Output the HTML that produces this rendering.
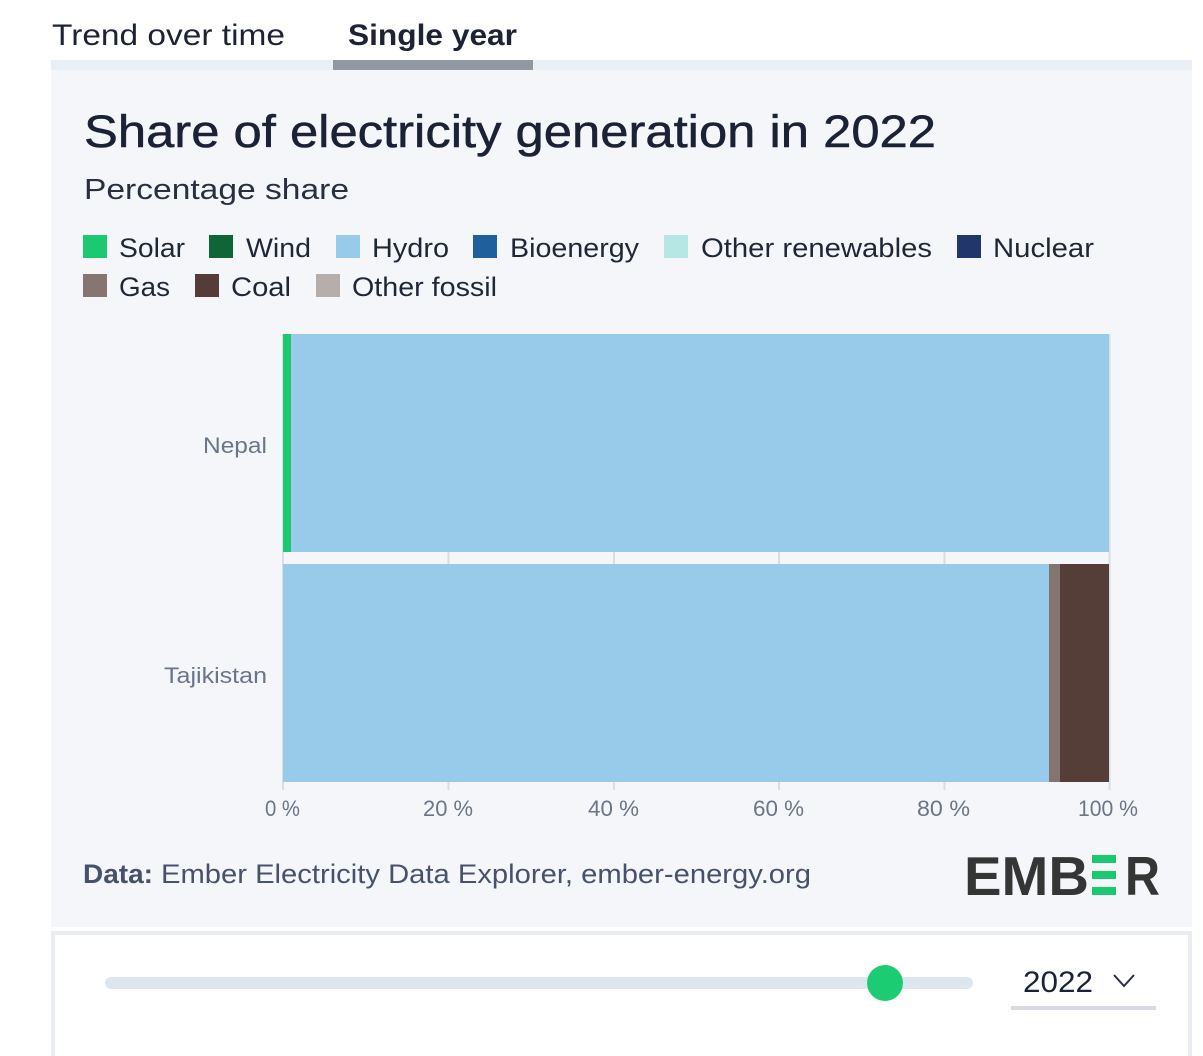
<!DOCTYPE html>
<html>
<head>
<meta charset="utf-8">
<style>
  html, body { margin: 0; padding: 0; background: #ffffff; }
  svg { display: block; }
  text { font-family: "Liberation Sans", "DejaVu Sans", sans-serif; }
</style>
</head>
<body>
<svg width="1203" height="1056" viewBox="0 0 1203 1056" xmlns="http://www.w3.org/2000/svg">
  <rect x="0" y="0" width="1203" height="1056" fill="#ffffff"/>

  <!-- Tabs -->
  <text x="52" y="45" font-size="30" fill="#1d2333" textLength="233" lengthAdjust="spacingAndGlyphs">Trend over time</text>
  <text x="348" y="45" font-size="30" font-weight="bold" fill="#1d2333" textLength="169" lengthAdjust="spacingAndGlyphs">Single year</text>
  <rect x="51" y="60" width="1141" height="10" fill="#eaeef5"/>
  <rect x="333" y="60" width="200" height="10" fill="#9298a2"/>

  <!-- Panel -->
  <rect x="51" y="70" width="1141" height="857" fill="#f4f6fa"/>

  <!-- Title -->
  <text x="84" y="147" font-size="45" fill="#1b2236" stroke="#1b2236" stroke-width="0.5" textLength="852" lengthAdjust="spacingAndGlyphs">Share of electricity generation in 2022</text>
  <text x="84" y="199" font-size="29" fill="#283040" textLength="265" lengthAdjust="spacingAndGlyphs">Percentage share</text>

  <!-- Legend row 1 -->
  <rect x="83" y="235" width="24" height="23" fill="#1bc970"/>
  <text x="119" y="257" font-size="27" fill="#1f2737" textLength="66" lengthAdjust="spacingAndGlyphs">Solar</text>
  <rect x="209" y="235" width="24" height="23" fill="#0e6637"/>
  <text x="246" y="257" font-size="27" fill="#1f2737" textLength="65" lengthAdjust="spacingAndGlyphs">Wind</text>
  <rect x="336" y="235" width="24" height="23" fill="#98cbea"/>
  <text x="372" y="257" font-size="27" fill="#1f2737" textLength="77" lengthAdjust="spacingAndGlyphs">Hydro</text>
  <rect x="473" y="235" width="24" height="23" fill="#1f5f9b"/>
  <text x="510" y="257" font-size="27" fill="#1f2737" textLength="129" lengthAdjust="spacingAndGlyphs">Bioenergy</text>
  <rect x="664" y="235" width="24" height="23" fill="#b7e7e4"/>
  <text x="701" y="257" font-size="27" fill="#1f2737" textLength="231" lengthAdjust="spacingAndGlyphs">Other renewables</text>
  <rect x="957" y="235" width="24" height="23" fill="#21366b"/>
  <text x="993" y="257" font-size="27" fill="#1f2737" textLength="101" lengthAdjust="spacingAndGlyphs">Nuclear</text>

  <!-- Legend row 2 -->
  <rect x="83" y="274" width="24" height="23" fill="#867570"/>
  <text x="119" y="296" font-size="27" fill="#1f2737" textLength="51" lengthAdjust="spacingAndGlyphs">Gas</text>
  <rect x="195" y="274" width="24" height="23" fill="#543d38"/>
  <text x="231" y="296" font-size="27" fill="#1f2737" textLength="60" lengthAdjust="spacingAndGlyphs">Coal</text>
  <rect x="316" y="274" width="24" height="23" fill="#b5aeab"/>
  <text x="352" y="296" font-size="27" fill="#1f2737" textLength="145" lengthAdjust="spacingAndGlyphs">Other fossil</text>

  <!-- Gridlines -->
  <g fill="#d8dde6">
    <rect x="282" y="334" width="2" height="456"/>
    <rect x="447.5" y="334" width="2" height="456"/>
    <rect x="613" y="334" width="2" height="456"/>
    <rect x="778" y="334" width="2" height="456"/>
    <rect x="943.5" y="334" width="2" height="456"/>
    <rect x="1108.5" y="334" width="2" height="456"/>
  </g>

  <!-- Nepal bar -->
  <rect x="283" y="334" width="8" height="218" fill="#1bc970"/>
  <rect x="291" y="334" width="818" height="218" fill="#98cbea"/>

  <!-- Tajikistan bar -->
  <rect x="283" y="564" width="766" height="218" fill="#98cbea"/>
  <rect x="1049" y="564" width="11" height="218" fill="#857570"/>
  <rect x="1060" y="564" width="49" height="218" fill="#553d38"/>

  <!-- Y labels -->
  <text x="203" y="453" font-size="22" fill="#6b7588" textLength="64" lengthAdjust="spacingAndGlyphs">Nepal</text>
  <text x="164" y="683" font-size="22" fill="#6b7588" textLength="103" lengthAdjust="spacingAndGlyphs">Tajikistan</text>

  <!-- X labels -->
  <text x="265" y="816" font-size="22" fill="#6b7588" textLength="35" lengthAdjust="spacingAndGlyphs">0 %</text>
  <text x="423" y="816" font-size="22" fill="#6b7588" textLength="50" lengthAdjust="spacingAndGlyphs">20 %</text>
  <text x="588" y="816" font-size="22" fill="#6b7588" textLength="51" lengthAdjust="spacingAndGlyphs">40 %</text>
  <text x="753" y="816" font-size="22" fill="#6b7588" textLength="51" lengthAdjust="spacingAndGlyphs">60 %</text>
  <text x="917" y="816" font-size="22" fill="#6b7588" textLength="53" lengthAdjust="spacingAndGlyphs">80 %</text>
  <text x="1078" y="816" font-size="22" fill="#6b7588" textLength="60" lengthAdjust="spacingAndGlyphs">100 %</text>

  <!-- Footer -->
  <text x="83" y="883" font-size="27" font-weight="bold" fill="#475269" textLength="70" lengthAdjust="spacingAndGlyphs">Data:</text>
  <text x="161" y="883" font-size="27" fill="#475269" textLength="650" lengthAdjust="spacingAndGlyphs">Ember Electricity Data Explorer, ember-energy.org</text>

  <!-- EMBER logo -->
  <text x="964" y="895" font-size="55" font-weight="bold" fill="#353535" textLength="125" lengthAdjust="spacingAndGlyphs">EMB</text>
  <rect x="1092" y="855" width="24" height="8" fill="#1bc970"/>
  <rect x="1092" y="871" width="24" height="8" fill="#1bc970"/>
  <rect x="1092" y="887" width="24" height="8" fill="#1bc970"/>
  <text x="1125" y="895" font-size="55" font-weight="bold" fill="#353535" textLength="35" lengthAdjust="spacingAndGlyphs">R</text>

  <!-- Control box -->
  <rect x="53" y="933" width="1137" height="130" fill="#ffffff" stroke="#e9edf2" stroke-width="4"/>
  <rect x="105" y="977" width="868" height="12" rx="6" ry="6" fill="#dde5ee"/>
  <circle cx="885" cy="983" r="18" fill="#1bcc72"/>
  <text x="1023" y="992" font-size="30" fill="#1b2236" textLength="70" lengthAdjust="spacingAndGlyphs">2022</text>
  <polyline points="1114,975 1124,986 1134,975" fill="none" stroke="#2a3140" stroke-width="2"/>
  <rect x="1011" y="1006" width="145" height="4" fill="#d6dbe4"/>
</svg>
</body>
</html>
